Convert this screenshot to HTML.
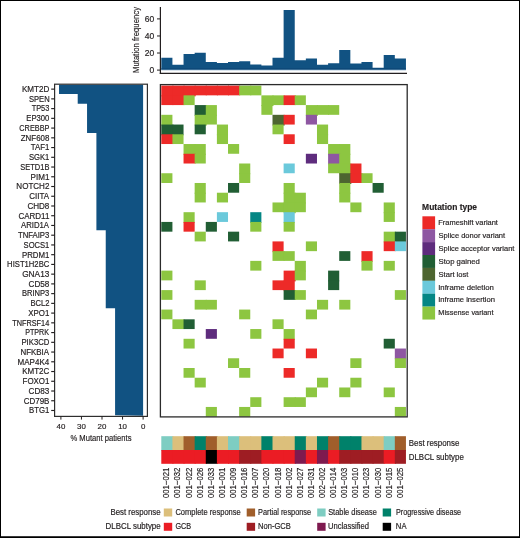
<!DOCTYPE html><html><head><meta charset="utf-8"><style>html,body{margin:0;padding:0;background:#fff;}svg{display:block;will-change:transform;}text{font-family:"Liberation Sans",sans-serif;fill:#231F20;stroke:#231F20;stroke-width:0.18px;}</style></head><body>
<svg width="520" height="538" viewBox="0 0 520 538">
<rect x="0" y="0" width="520" height="538" fill="#fff"/>
<path d="M161.30,69.7 L161.30,57.70 L172.42,57.70 L172.42,64.65 L183.54,64.65 L183.54,54.10 L194.66,54.10 L194.66,52.70 L205.78,52.70 L205.78,61.90 L216.90,61.90 L216.90,62.90 L228.02,62.90 L228.02,61.90 L239.14,61.90 L239.14,61.20 L250.26,61.20 L250.26,64.50 L261.38,64.50 L261.38,65.50 L272.50,65.50 L272.50,57.70 L283.62,57.70 L283.62,10.00 L294.74,10.00 L294.74,60.30 L305.86,60.30 L305.86,58.50 L316.98,58.50 L316.98,64.70 L328.10,64.70 L328.10,63.30 L339.22,63.30 L339.22,50.00 L350.34,50.00 L350.34,63.60 L361.46,63.60 L361.46,61.90 L372.58,61.90 L372.58,67.70 L383.70,67.70 L383.70,55.00 L394.82,55.00 L394.82,58.50 L405.94,58.50 L405.94,69.7 Z" fill="#115282"/>
<rect x="161.30" y="68.3" width="244.64" height="1.4" fill="#0C4676"/>
<rect x="161.30" y="69.7" width="244.64" height="0.6" fill="#7FA3C4"/>
<line x1="160.4" y1="7" x2="160.4" y2="73.9" stroke="#231F20" stroke-width="1.2"/>
<line x1="159.8" y1="73.3" x2="407" y2="73.3" stroke="#231F20" stroke-width="1.2"/>
<line x1="157" y1="70.10" x2="160.4" y2="70.10" stroke="#231F20" stroke-width="1"/>
<text x="154.2" y="73.20" font-size="8.5" text-anchor="end">0</text>
<line x1="157" y1="53.03" x2="160.4" y2="53.03" stroke="#231F20" stroke-width="1"/>
<text x="154.2" y="56.13" font-size="8.5" text-anchor="end">20</text>
<line x1="157" y1="35.97" x2="160.4" y2="35.97" stroke="#231F20" stroke-width="1"/>
<text x="154.2" y="39.07" font-size="8.5" text-anchor="end">40</text>
<line x1="157" y1="18.90" x2="160.4" y2="18.90" stroke="#231F20" stroke-width="1"/>
<text x="154.2" y="22.00" font-size="8.5" text-anchor="end">60</text>
<text transform="translate(138.90,72.94) rotate(-90)" font-size="9.8" textLength="65.95" lengthAdjust="spacingAndGlyphs">Mutation frequency</text>
<path d="M143.1,84.8 L59.03,84.80 L59.03,94.00 L77.71,94.00 L77.71,103.74 L87.05,103.74 L87.05,113.47 L87.05,113.47 L87.05,123.21 L87.05,123.21 L87.05,132.95 L96.40,132.95 L96.40,142.69 L96.40,142.69 L96.40,152.43 L96.40,152.43 L96.40,162.16 L96.40,162.16 L96.40,171.90 L96.40,171.90 L96.40,181.64 L96.40,181.64 L96.40,191.38 L96.40,191.38 L96.40,201.12 L96.40,201.12 L96.40,210.85 L96.40,210.85 L96.40,220.59 L96.40,220.59 L96.40,230.33 L105.74,230.33 L105.74,240.07 L105.74,240.07 L105.74,249.81 L105.74,249.81 L105.74,259.54 L105.74,259.54 L105.74,269.28 L105.74,269.28 L105.74,279.02 L105.74,279.02 L105.74,288.76 L105.74,288.76 L105.74,298.50 L105.74,298.50 L105.74,308.23 L115.08,308.23 L115.08,317.97 L115.08,317.97 L115.08,327.71 L115.08,327.71 L115.08,337.45 L115.08,337.45 L115.08,347.19 L115.08,347.19 L115.08,356.92 L115.08,356.92 L115.08,366.66 L115.08,366.66 L115.08,376.40 L115.08,376.40 L115.08,386.14 L115.08,386.14 L115.08,395.88 L115.08,395.88 L115.08,405.61 L115.08,405.61 L115.08,415.35 L143.1,415.8 Z" fill="#115282"/>
<rect x="54.6" y="84.2" width="92.8" height="332.2" fill="none" stroke="#2E2E2E" stroke-width="1.2"/>
<line x1="51.2" y1="89.13" x2="54.6" y2="89.13" stroke="#231F20" stroke-width="1.15"/>
<text x="21.94" y="91.98" font-size="8.2" textLength="27.45" lengthAdjust="spacingAndGlyphs">KMT2D</text>
<line x1="51.2" y1="98.87" x2="54.6" y2="98.87" stroke="#231F20" stroke-width="1.15"/>
<text x="28.96" y="101.72" font-size="8.2" textLength="20.66" lengthAdjust="spacingAndGlyphs">SPEN</text>
<line x1="51.2" y1="108.61" x2="54.6" y2="108.61" stroke="#231F20" stroke-width="1.15"/>
<text x="31.63" y="111.45" font-size="8.2" textLength="17.69" lengthAdjust="spacingAndGlyphs">TP53</text>
<line x1="51.2" y1="118.34" x2="54.6" y2="118.34" stroke="#231F20" stroke-width="1.15"/>
<text x="26.27" y="121.19" font-size="8.2" textLength="23.03" lengthAdjust="spacingAndGlyphs">EP300</text>
<line x1="51.2" y1="128.08" x2="54.6" y2="128.08" stroke="#231F20" stroke-width="1.15"/>
<text x="19.33" y="130.93" font-size="8.2" textLength="30.06" lengthAdjust="spacingAndGlyphs">CREBBP</text>
<line x1="51.2" y1="137.82" x2="54.6" y2="137.82" stroke="#231F20" stroke-width="1.15"/>
<text x="20.75" y="140.67" font-size="8.2" textLength="28.60" lengthAdjust="spacingAndGlyphs">ZNF608</text>
<line x1="51.2" y1="147.56" x2="54.6" y2="147.56" stroke="#231F20" stroke-width="1.15"/>
<text x="30.83" y="150.41" font-size="8.2" textLength="18.54" lengthAdjust="spacingAndGlyphs">TAF1</text>
<line x1="51.2" y1="157.30" x2="54.6" y2="157.30" stroke="#231F20" stroke-width="1.15"/>
<text x="28.95" y="160.15" font-size="8.2" textLength="20.42" lengthAdjust="spacingAndGlyphs">SGK1</text>
<line x1="51.2" y1="167.03" x2="54.6" y2="167.03" stroke="#231F20" stroke-width="1.15"/>
<text x="20.36" y="169.88" font-size="8.2" textLength="29.03" lengthAdjust="spacingAndGlyphs">SETD1B</text>
<line x1="51.2" y1="176.77" x2="54.6" y2="176.77" stroke="#231F20" stroke-width="1.15"/>
<text x="30.54" y="179.62" font-size="8.2" textLength="18.86" lengthAdjust="spacingAndGlyphs">PIM1</text>
<line x1="51.2" y1="186.51" x2="54.6" y2="186.51" stroke="#231F20" stroke-width="1.15"/>
<text x="16.34" y="189.36" font-size="8.2" textLength="33.06" lengthAdjust="spacingAndGlyphs">NOTCH2</text>
<line x1="51.2" y1="196.25" x2="54.6" y2="196.25" stroke="#231F20" stroke-width="1.15"/>
<text x="29.21" y="199.10" font-size="8.2" textLength="19.81" lengthAdjust="spacingAndGlyphs">CIITA</text>
<line x1="51.2" y1="205.99" x2="54.6" y2="205.99" stroke="#231F20" stroke-width="1.15"/>
<text x="27.39" y="208.84" font-size="8.2" textLength="21.96" lengthAdjust="spacingAndGlyphs">CHD8</text>
<line x1="51.2" y1="215.72" x2="54.6" y2="215.72" stroke="#231F20" stroke-width="1.15"/>
<text x="18.40" y="218.57" font-size="8.2" textLength="30.98" lengthAdjust="spacingAndGlyphs">CARD11</text>
<line x1="51.2" y1="225.46" x2="54.6" y2="225.46" stroke="#231F20" stroke-width="1.15"/>
<text x="20.98" y="228.31" font-size="8.2" textLength="28.03" lengthAdjust="spacingAndGlyphs">ARID1A</text>
<line x1="51.2" y1="235.20" x2="54.6" y2="235.20" stroke="#231F20" stroke-width="1.15"/>
<text x="17.93" y="238.05" font-size="8.2" textLength="31.41" lengthAdjust="spacingAndGlyphs">TNFAIP3</text>
<line x1="51.2" y1="244.94" x2="54.6" y2="244.94" stroke="#231F20" stroke-width="1.15"/>
<text x="23.55" y="247.79" font-size="8.2" textLength="25.82" lengthAdjust="spacingAndGlyphs">SOCS1</text>
<line x1="51.2" y1="254.68" x2="54.6" y2="254.68" stroke="#231F20" stroke-width="1.15"/>
<text x="21.96" y="257.53" font-size="8.2" textLength="27.43" lengthAdjust="spacingAndGlyphs">PRDM1</text>
<line x1="51.2" y1="264.41" x2="54.6" y2="264.41" stroke="#231F20" stroke-width="1.15"/>
<text x="7.12" y="267.26" font-size="8.2" textLength="42.17" lengthAdjust="spacingAndGlyphs">HIST1H2BC</text>
<line x1="51.2" y1="274.15" x2="54.6" y2="274.15" stroke="#231F20" stroke-width="1.15"/>
<text x="22.18" y="277.00" font-size="8.2" textLength="27.18" lengthAdjust="spacingAndGlyphs">GNA13</text>
<line x1="51.2" y1="283.89" x2="54.6" y2="283.89" stroke="#231F20" stroke-width="1.15"/>
<text x="28.49" y="286.74" font-size="8.2" textLength="20.87" lengthAdjust="spacingAndGlyphs">CD58</text>
<line x1="51.2" y1="293.63" x2="54.6" y2="293.63" stroke="#231F20" stroke-width="1.15"/>
<text x="21.98" y="296.48" font-size="8.2" textLength="27.35" lengthAdjust="spacingAndGlyphs">BRINP3</text>
<line x1="51.2" y1="303.37" x2="54.6" y2="303.37" stroke="#231F20" stroke-width="1.15"/>
<text x="30.38" y="306.22" font-size="8.2" textLength="19.01" lengthAdjust="spacingAndGlyphs">BCL2</text>
<line x1="51.2" y1="313.10" x2="54.6" y2="313.10" stroke="#231F20" stroke-width="1.15"/>
<text x="28.32" y="315.95" font-size="8.2" textLength="21.06" lengthAdjust="spacingAndGlyphs">XPO1</text>
<line x1="51.2" y1="322.84" x2="54.6" y2="322.84" stroke="#231F20" stroke-width="1.15"/>
<text x="12.24" y="325.69" font-size="8.2" textLength="36.98" lengthAdjust="spacingAndGlyphs">TNFRSF14</text>
<line x1="51.2" y1="332.58" x2="54.6" y2="332.58" stroke="#231F20" stroke-width="1.15"/>
<text x="25.21" y="335.43" font-size="8.2" textLength="23.87" lengthAdjust="spacingAndGlyphs">PTPRK</text>
<line x1="51.2" y1="342.32" x2="54.6" y2="342.32" stroke="#231F20" stroke-width="1.15"/>
<text x="21.47" y="345.17" font-size="8.2" textLength="27.90" lengthAdjust="spacingAndGlyphs">PIK3CD</text>
<line x1="51.2" y1="352.05" x2="54.6" y2="352.05" stroke="#231F20" stroke-width="1.15"/>
<text x="20.45" y="354.90" font-size="8.2" textLength="28.56" lengthAdjust="spacingAndGlyphs">NFKBIA</text>
<line x1="51.2" y1="361.79" x2="54.6" y2="361.79" stroke="#231F20" stroke-width="1.15"/>
<text x="17.54" y="364.64" font-size="8.2" textLength="31.69" lengthAdjust="spacingAndGlyphs">MAP4K4</text>
<line x1="51.2" y1="371.53" x2="54.6" y2="371.53" stroke="#231F20" stroke-width="1.15"/>
<text x="22.14" y="374.38" font-size="8.2" textLength="27.16" lengthAdjust="spacingAndGlyphs">KMT2C</text>
<line x1="51.2" y1="381.27" x2="54.6" y2="381.27" stroke="#231F20" stroke-width="1.15"/>
<text x="22.55" y="384.12" font-size="8.2" textLength="26.84" lengthAdjust="spacingAndGlyphs">FOXO1</text>
<line x1="51.2" y1="391.01" x2="54.6" y2="391.01" stroke="#231F20" stroke-width="1.15"/>
<text x="28.49" y="393.86" font-size="8.2" textLength="20.87" lengthAdjust="spacingAndGlyphs">CD83</text>
<line x1="51.2" y1="400.75" x2="54.6" y2="400.75" stroke="#231F20" stroke-width="1.15"/>
<text x="23.69" y="403.60" font-size="8.2" textLength="25.73" lengthAdjust="spacingAndGlyphs">CD79B</text>
<line x1="51.2" y1="410.48" x2="54.6" y2="410.48" stroke="#231F20" stroke-width="1.15"/>
<text x="29.06" y="413.33" font-size="8.2" textLength="20.32" lengthAdjust="spacingAndGlyphs">BTG1</text>
<line x1="60.90" y1="416.4" x2="60.90" y2="419.6" stroke="#231F20" stroke-width="1"/>
<text x="60.90" y="428.6" font-size="7.9" text-anchor="middle">40</text>
<line x1="81.45" y1="416.4" x2="81.45" y2="419.6" stroke="#231F20" stroke-width="1"/>
<text x="81.45" y="428.6" font-size="7.9" text-anchor="middle">30</text>
<line x1="102.00" y1="416.4" x2="102.00" y2="419.6" stroke="#231F20" stroke-width="1"/>
<text x="102.00" y="428.6" font-size="7.9" text-anchor="middle">20</text>
<line x1="122.55" y1="416.4" x2="122.55" y2="419.6" stroke="#231F20" stroke-width="1"/>
<text x="122.55" y="428.6" font-size="7.9" text-anchor="middle">10</text>
<line x1="143.10" y1="416.4" x2="143.10" y2="419.6" stroke="#231F20" stroke-width="1"/>
<text x="143.10" y="428.6" font-size="7.9" text-anchor="middle">0</text>
<text x="70.38" y="441.40" font-size="9.6" textLength="61.10" lengthAdjust="spacingAndGlyphs">% Mutant patients</text>
<rect x="161.30" y="85.60" width="12.12" height="10.74" fill="#ED2A28"/>
<rect x="172.42" y="85.60" width="12.12" height="10.74" fill="#ED2A28"/>
<rect x="183.54" y="85.60" width="12.12" height="10.74" fill="#ED2A28"/>
<rect x="194.66" y="85.60" width="12.12" height="9.74" fill="#ED2A28"/>
<rect x="205.78" y="85.60" width="12.12" height="9.74" fill="#ED2A28"/>
<rect x="216.90" y="85.60" width="12.12" height="9.74" fill="#ED2A28"/>
<rect x="228.02" y="85.60" width="12.12" height="9.74" fill="#ED2A28"/>
<rect x="239.14" y="85.60" width="12.12" height="9.74" fill="#8DC641"/>
<rect x="250.26" y="85.60" width="11.12" height="9.74" fill="#8DC641"/>
<rect x="161.30" y="95.34" width="12.12" height="9.74" fill="#ED2A28"/>
<rect x="172.42" y="95.34" width="12.12" height="9.74" fill="#ED2A28"/>
<rect x="183.54" y="95.34" width="11.12" height="9.74" fill="#8DC641"/>
<rect x="261.38" y="95.34" width="12.12" height="10.74" fill="#8DC641"/>
<rect x="272.50" y="95.34" width="12.12" height="9.74" fill="#8DC641"/>
<rect x="283.62" y="95.34" width="12.12" height="9.74" fill="#ED2A28"/>
<rect x="294.74" y="95.34" width="11.12" height="9.74" fill="#8DC641"/>
<rect x="194.66" y="105.08" width="12.12" height="10.74" fill="#215E34"/>
<rect x="205.78" y="105.08" width="11.12" height="10.74" fill="#8DC641"/>
<rect x="261.38" y="105.08" width="11.12" height="9.74" fill="#8DC641"/>
<rect x="305.86" y="105.08" width="12.12" height="10.74" fill="#8DC641"/>
<rect x="316.98" y="105.08" width="12.12" height="9.74" fill="#8DC641"/>
<rect x="328.10" y="105.08" width="11.12" height="9.74" fill="#8DC641"/>
<rect x="161.30" y="114.81" width="11.12" height="10.74" fill="#8DC641"/>
<rect x="194.66" y="114.81" width="12.12" height="10.74" fill="#8DC641"/>
<rect x="205.78" y="114.81" width="11.12" height="9.74" fill="#8DC641"/>
<rect x="272.50" y="114.81" width="12.12" height="10.74" fill="#4D6530"/>
<rect x="283.62" y="114.81" width="11.12" height="9.74" fill="#ED2A28"/>
<rect x="305.86" y="114.81" width="11.12" height="9.74" fill="#8E57A2"/>
<rect x="161.30" y="124.55" width="12.12" height="10.74" fill="#215E34"/>
<rect x="172.42" y="124.55" width="11.12" height="10.74" fill="#215E34"/>
<rect x="194.66" y="124.55" width="11.12" height="9.74" fill="#215E34"/>
<rect x="216.90" y="124.55" width="11.12" height="10.74" fill="#8DC641"/>
<rect x="272.50" y="124.55" width="11.12" height="9.74" fill="#8DC641"/>
<rect x="316.98" y="124.55" width="11.12" height="10.74" fill="#8DC641"/>
<rect x="161.30" y="134.29" width="12.12" height="9.74" fill="#ED2A28"/>
<rect x="172.42" y="134.29" width="11.12" height="9.74" fill="#8DC641"/>
<rect x="216.90" y="134.29" width="11.12" height="9.74" fill="#8DC641"/>
<rect x="283.62" y="134.29" width="11.12" height="9.74" fill="#ED2A28"/>
<rect x="316.98" y="134.29" width="11.12" height="9.74" fill="#8DC641"/>
<rect x="183.54" y="144.03" width="12.12" height="10.74" fill="#8DC641"/>
<rect x="194.66" y="144.03" width="11.12" height="10.74" fill="#8DC641"/>
<rect x="228.02" y="144.03" width="11.12" height="9.74" fill="#8DC641"/>
<rect x="328.10" y="144.03" width="12.12" height="10.74" fill="#8DC641"/>
<rect x="339.22" y="144.03" width="11.12" height="10.74" fill="#8DC641"/>
<rect x="183.54" y="153.77" width="12.12" height="9.74" fill="#ED2A28"/>
<rect x="194.66" y="153.77" width="11.12" height="9.74" fill="#8DC641"/>
<rect x="305.86" y="153.77" width="11.12" height="9.74" fill="#5E2C7D"/>
<rect x="328.10" y="153.77" width="12.12" height="10.74" fill="#8E57A2"/>
<rect x="339.22" y="153.77" width="11.12" height="10.74" fill="#8DC641"/>
<rect x="239.14" y="163.50" width="11.12" height="10.74" fill="#8DC641"/>
<rect x="283.62" y="163.50" width="11.12" height="9.74" fill="#6BC9DB"/>
<rect x="328.10" y="163.50" width="12.12" height="9.74" fill="#8DC641"/>
<rect x="339.22" y="163.50" width="12.12" height="10.74" fill="#8DC641"/>
<rect x="350.34" y="163.50" width="11.12" height="10.74" fill="#ED2A28"/>
<rect x="161.30" y="173.24" width="11.12" height="9.74" fill="#8DC641"/>
<rect x="239.14" y="173.24" width="11.12" height="9.74" fill="#8DC641"/>
<rect x="339.22" y="173.24" width="12.12" height="10.74" fill="#4D6530"/>
<rect x="350.34" y="173.24" width="12.12" height="9.74" fill="#ED2A28"/>
<rect x="361.46" y="173.24" width="11.12" height="9.74" fill="#8DC641"/>
<rect x="194.66" y="182.98" width="11.12" height="10.74" fill="#8DC641"/>
<rect x="228.02" y="182.98" width="11.12" height="9.74" fill="#215E34"/>
<rect x="283.62" y="182.98" width="11.12" height="10.74" fill="#8DC641"/>
<rect x="339.22" y="182.98" width="11.12" height="10.74" fill="#8DC641"/>
<rect x="372.58" y="182.98" width="11.12" height="9.74" fill="#215E34"/>
<rect x="194.66" y="192.72" width="11.12" height="9.74" fill="#8DC641"/>
<rect x="216.90" y="192.72" width="11.12" height="9.74" fill="#8DC641"/>
<rect x="283.62" y="192.72" width="12.12" height="10.74" fill="#8DC641"/>
<rect x="294.74" y="192.72" width="11.12" height="10.74" fill="#8DC641"/>
<rect x="339.22" y="192.72" width="11.12" height="9.74" fill="#8DC641"/>
<rect x="272.50" y="202.46" width="12.12" height="9.74" fill="#8DC641"/>
<rect x="283.62" y="202.46" width="12.12" height="10.74" fill="#8DC641"/>
<rect x="294.74" y="202.46" width="11.12" height="9.74" fill="#8DC641"/>
<rect x="350.34" y="202.46" width="11.12" height="9.74" fill="#8DC641"/>
<rect x="383.70" y="202.46" width="11.12" height="10.74" fill="#8DC641"/>
<rect x="183.54" y="212.19" width="11.12" height="10.74" fill="#8DC641"/>
<rect x="216.90" y="212.19" width="11.12" height="9.74" fill="#6BC9DB"/>
<rect x="250.26" y="212.19" width="11.12" height="10.74" fill="#048684"/>
<rect x="283.62" y="212.19" width="11.12" height="10.74" fill="#6BC9DB"/>
<rect x="383.70" y="212.19" width="11.12" height="9.74" fill="#8DC641"/>
<rect x="161.30" y="221.93" width="11.12" height="9.74" fill="#215E34"/>
<rect x="183.54" y="221.93" width="11.12" height="9.74" fill="#ED2A28"/>
<rect x="205.78" y="221.93" width="11.12" height="9.74" fill="#215E34"/>
<rect x="250.26" y="221.93" width="11.12" height="9.74" fill="#8DC641"/>
<rect x="283.62" y="221.93" width="11.12" height="9.74" fill="#8DC641"/>
<rect x="194.66" y="231.67" width="11.12" height="9.74" fill="#8DC641"/>
<rect x="228.02" y="231.67" width="11.12" height="9.74" fill="#215E34"/>
<rect x="383.70" y="231.67" width="12.12" height="10.74" fill="#8DC641"/>
<rect x="394.82" y="231.67" width="11.12" height="10.74" fill="#215E34"/>
<rect x="272.50" y="241.41" width="11.12" height="10.74" fill="#ED2A28"/>
<rect x="305.86" y="241.41" width="11.12" height="9.74" fill="#8DC641"/>
<rect x="383.70" y="241.41" width="12.12" height="9.74" fill="#ED2A28"/>
<rect x="394.82" y="241.41" width="11.12" height="9.74" fill="#6BC9DB"/>
<rect x="272.50" y="251.15" width="12.12" height="9.74" fill="#8DC641"/>
<rect x="283.62" y="251.15" width="11.12" height="9.74" fill="#8DC641"/>
<rect x="339.22" y="251.15" width="11.12" height="9.74" fill="#215E34"/>
<rect x="361.46" y="251.15" width="11.12" height="10.74" fill="#ED2A28"/>
<rect x="250.26" y="260.88" width="11.12" height="9.74" fill="#8DC641"/>
<rect x="294.74" y="260.88" width="11.12" height="10.74" fill="#8DC641"/>
<rect x="361.46" y="260.88" width="11.12" height="9.74" fill="#8DC641"/>
<rect x="383.70" y="260.88" width="11.12" height="9.74" fill="#8DC641"/>
<rect x="161.30" y="270.62" width="11.12" height="9.74" fill="#8DC641"/>
<rect x="283.62" y="270.62" width="12.12" height="10.74" fill="#ED2A28"/>
<rect x="294.74" y="270.62" width="11.12" height="9.74" fill="#8DC641"/>
<rect x="328.10" y="270.62" width="11.12" height="10.74" fill="#215E34"/>
<rect x="194.66" y="280.36" width="11.12" height="9.74" fill="#8DC641"/>
<rect x="272.50" y="280.36" width="12.12" height="9.74" fill="#ED2A28"/>
<rect x="283.62" y="280.36" width="11.12" height="10.74" fill="#ED2A28"/>
<rect x="328.10" y="280.36" width="11.12" height="9.74" fill="#215E34"/>
<rect x="161.30" y="290.10" width="11.12" height="9.74" fill="#8DC641"/>
<rect x="283.62" y="290.10" width="12.12" height="9.74" fill="#215E34"/>
<rect x="294.74" y="290.10" width="11.12" height="9.74" fill="#8DC641"/>
<rect x="394.82" y="290.10" width="11.12" height="9.74" fill="#8DC641"/>
<rect x="194.66" y="299.84" width="12.12" height="9.74" fill="#8DC641"/>
<rect x="205.78" y="299.84" width="11.12" height="9.74" fill="#8DC641"/>
<rect x="316.98" y="299.84" width="11.12" height="9.74" fill="#8DC641"/>
<rect x="339.22" y="299.84" width="11.12" height="9.74" fill="#8DC641"/>
<rect x="161.30" y="309.57" width="11.12" height="9.74" fill="#8DC641"/>
<rect x="239.14" y="309.57" width="11.12" height="9.74" fill="#8DC641"/>
<rect x="305.86" y="309.57" width="11.12" height="9.74" fill="#8DC641"/>
<rect x="172.42" y="319.31" width="12.12" height="9.74" fill="#8DC641"/>
<rect x="183.54" y="319.31" width="11.12" height="9.74" fill="#215E34"/>
<rect x="272.50" y="319.31" width="11.12" height="9.74" fill="#8DC641"/>
<rect x="205.78" y="329.05" width="11.12" height="9.74" fill="#5E2C7D"/>
<rect x="250.26" y="329.05" width="11.12" height="9.74" fill="#8DC641"/>
<rect x="283.62" y="329.05" width="11.12" height="10.74" fill="#8DC641"/>
<rect x="183.54" y="338.79" width="11.12" height="9.74" fill="#8DC641"/>
<rect x="283.62" y="338.79" width="11.12" height="9.74" fill="#ED2A28"/>
<rect x="383.70" y="338.79" width="11.12" height="9.74" fill="#215E34"/>
<rect x="272.50" y="348.53" width="11.12" height="9.74" fill="#ED2A28"/>
<rect x="305.86" y="348.53" width="11.12" height="9.74" fill="#ED2A28"/>
<rect x="394.82" y="348.53" width="11.12" height="10.74" fill="#8E57A2"/>
<rect x="228.02" y="358.26" width="11.12" height="9.74" fill="#8DC641"/>
<rect x="350.34" y="358.26" width="11.12" height="9.74" fill="#8DC641"/>
<rect x="394.82" y="358.26" width="11.12" height="9.74" fill="#8DC641"/>
<rect x="183.54" y="368.00" width="11.12" height="9.74" fill="#8DC641"/>
<rect x="239.14" y="368.00" width="11.12" height="9.74" fill="#8DC641"/>
<rect x="283.62" y="368.00" width="11.12" height="9.74" fill="#ED2A28"/>
<rect x="194.66" y="377.74" width="11.12" height="9.74" fill="#8DC641"/>
<rect x="316.98" y="377.74" width="11.12" height="9.74" fill="#8DC641"/>
<rect x="350.34" y="377.74" width="11.12" height="9.74" fill="#8DC641"/>
<rect x="305.86" y="387.48" width="11.12" height="9.74" fill="#8DC641"/>
<rect x="339.22" y="387.48" width="11.12" height="9.74" fill="#8DC641"/>
<rect x="383.70" y="387.48" width="11.12" height="9.74" fill="#8DC641"/>
<rect x="250.26" y="397.22" width="11.12" height="9.74" fill="#8DC641"/>
<rect x="283.62" y="397.22" width="12.12" height="9.74" fill="#8DC641"/>
<rect x="294.74" y="397.22" width="11.12" height="9.74" fill="#8DC641"/>
<rect x="205.78" y="406.95" width="11.12" height="9.74" fill="#8DC641"/>
<rect x="239.14" y="406.95" width="11.12" height="9.74" fill="#8DC641"/>
<rect x="394.82" y="406.95" width="11.12" height="9.74" fill="#8DC641"/>
<rect x="160.4" y="84.6" width="246.8" height="332.3" fill="none" stroke="#2B2B2B" stroke-width="1.3"/>
<rect x="161.30" y="436.2" width="12.12" height="14.8" fill="#7ECDC2"/>
<rect x="172.42" y="436.2" width="12.12" height="14.8" fill="#DCBF7B"/>
<rect x="183.54" y="436.2" width="12.12" height="14.8" fill="#A05E2B"/>
<rect x="194.66" y="436.2" width="12.12" height="14.8" fill="#00816A"/>
<rect x="205.78" y="436.2" width="12.12" height="14.8" fill="#A05E2B"/>
<rect x="216.90" y="436.2" width="12.12" height="14.8" fill="#DCBF7B"/>
<rect x="228.02" y="436.2" width="12.12" height="14.8" fill="#7ECDC2"/>
<rect x="239.14" y="436.2" width="12.12" height="14.8" fill="#DCBF7B"/>
<rect x="250.26" y="436.2" width="12.12" height="14.8" fill="#DCBF7B"/>
<rect x="261.38" y="436.2" width="12.12" height="14.8" fill="#00816A"/>
<rect x="272.50" y="436.2" width="12.12" height="14.8" fill="#DCBF7B"/>
<rect x="283.62" y="436.2" width="12.12" height="14.8" fill="#DCBF7B"/>
<rect x="294.74" y="436.2" width="12.12" height="14.8" fill="#00816A"/>
<rect x="305.86" y="436.2" width="12.12" height="14.8" fill="#DCBF7B"/>
<rect x="316.98" y="436.2" width="12.12" height="14.8" fill="#00816A"/>
<rect x="328.10" y="436.2" width="12.12" height="14.8" fill="#A05E2B"/>
<rect x="339.22" y="436.2" width="12.12" height="14.8" fill="#00816A"/>
<rect x="350.34" y="436.2" width="12.12" height="14.8" fill="#00816A"/>
<rect x="361.46" y="436.2" width="12.12" height="14.8" fill="#DCBF7B"/>
<rect x="372.58" y="436.2" width="12.12" height="14.8" fill="#DCBF7B"/>
<rect x="383.70" y="436.2" width="12.12" height="14.8" fill="#7ECDC2"/>
<rect x="394.82" y="436.2" width="11.12" height="14.8" fill="#A05E2B"/>
<rect x="161.30" y="450" width="12.12" height="13.8" fill="#EB1C24"/>
<rect x="172.42" y="450" width="12.12" height="13.8" fill="#EB1C24"/>
<rect x="183.54" y="450" width="12.12" height="13.8" fill="#EB1C24"/>
<rect x="194.66" y="450" width="12.12" height="13.8" fill="#EB1C24"/>
<rect x="205.78" y="450" width="12.12" height="13.8" fill="#000000"/>
<rect x="216.90" y="450" width="12.12" height="13.8" fill="#EB1C24"/>
<rect x="228.02" y="450" width="12.12" height="13.8" fill="#EB1C24"/>
<rect x="239.14" y="450" width="12.12" height="13.8" fill="#9E1D23"/>
<rect x="250.26" y="450" width="12.12" height="13.8" fill="#9E1D23"/>
<rect x="261.38" y="450" width="12.12" height="13.8" fill="#EB1C24"/>
<rect x="272.50" y="450" width="12.12" height="13.8" fill="#EB1C24"/>
<rect x="283.62" y="450" width="12.12" height="13.8" fill="#EB1C24"/>
<rect x="294.74" y="450" width="12.12" height="13.8" fill="#7E1A4F"/>
<rect x="305.86" y="450" width="12.12" height="13.8" fill="#EB1C24"/>
<rect x="316.98" y="450" width="12.12" height="13.8" fill="#7E1A4F"/>
<rect x="328.10" y="450" width="12.12" height="13.8" fill="#EB1C24"/>
<rect x="339.22" y="450" width="12.12" height="13.8" fill="#9E1D23"/>
<rect x="350.34" y="450" width="12.12" height="13.8" fill="#9E1D23"/>
<rect x="361.46" y="450" width="12.12" height="13.8" fill="#9E1D23"/>
<rect x="372.58" y="450" width="12.12" height="13.8" fill="#9E1D23"/>
<rect x="383.70" y="450" width="12.12" height="13.8" fill="#EB1C24"/>
<rect x="394.82" y="450" width="11.12" height="13.8" fill="#9E1D23"/>
<text x="408.75" y="445.80" font-size="8.3" textLength="50.60" lengthAdjust="spacingAndGlyphs">Best response</text>
<text x="408.75" y="459.50" font-size="8.3" textLength="55.09" lengthAdjust="spacingAndGlyphs">DLBCL subtype</text>
<text transform="translate(169.31,498.00) rotate(-90)" font-size="8.4" textLength="30.38" lengthAdjust="spacingAndGlyphs">001−021</text>
<text transform="translate(180.43,498.00) rotate(-90)" font-size="8.4" textLength="30.39" lengthAdjust="spacingAndGlyphs">001−032</text>
<text transform="translate(191.55,498.00) rotate(-90)" font-size="8.4" textLength="30.39" lengthAdjust="spacingAndGlyphs">001−022</text>
<text transform="translate(202.67,498.00) rotate(-90)" font-size="8.4" textLength="30.34" lengthAdjust="spacingAndGlyphs">001−026</text>
<text transform="translate(213.79,498.00) rotate(-90)" font-size="8.4" textLength="30.34" lengthAdjust="spacingAndGlyphs">001−033</text>
<text transform="translate(224.91,498.00) rotate(-90)" font-size="8.4" textLength="30.38" lengthAdjust="spacingAndGlyphs">001−001</text>
<text transform="translate(236.03,498.00) rotate(-90)" font-size="8.4" textLength="30.37" lengthAdjust="spacingAndGlyphs">001−009</text>
<text transform="translate(247.15,498.00) rotate(-90)" font-size="8.4" textLength="30.34" lengthAdjust="spacingAndGlyphs">001−016</text>
<text transform="translate(258.27,498.00) rotate(-90)" font-size="8.4" textLength="30.39" lengthAdjust="spacingAndGlyphs">001−007</text>
<text transform="translate(269.39,498.00) rotate(-90)" font-size="8.4" textLength="30.30" lengthAdjust="spacingAndGlyphs">001−020</text>
<text transform="translate(280.51,498.00) rotate(-90)" font-size="8.4" textLength="30.34" lengthAdjust="spacingAndGlyphs">001−018</text>
<text transform="translate(291.63,498.00) rotate(-90)" font-size="8.4" textLength="30.39" lengthAdjust="spacingAndGlyphs">001−002</text>
<text transform="translate(302.75,498.00) rotate(-90)" font-size="8.4" textLength="30.39" lengthAdjust="spacingAndGlyphs">001−027</text>
<text transform="translate(313.87,498.00) rotate(-90)" font-size="8.4" textLength="30.38" lengthAdjust="spacingAndGlyphs">001−031</text>
<text transform="translate(324.99,498.00) rotate(-90)" font-size="8.4" textLength="30.39" lengthAdjust="spacingAndGlyphs">002−002</text>
<text transform="translate(336.11,498.00) rotate(-90)" font-size="8.4" textLength="30.23" lengthAdjust="spacingAndGlyphs">001−014</text>
<text transform="translate(347.23,498.00) rotate(-90)" font-size="8.4" textLength="30.34" lengthAdjust="spacingAndGlyphs">001−003</text>
<text transform="translate(358.35,498.00) rotate(-90)" font-size="8.4" textLength="30.30" lengthAdjust="spacingAndGlyphs">001−010</text>
<text transform="translate(369.47,498.00) rotate(-90)" font-size="8.4" textLength="30.34" lengthAdjust="spacingAndGlyphs">001−023</text>
<text transform="translate(380.59,498.00) rotate(-90)" font-size="8.4" textLength="30.30" lengthAdjust="spacingAndGlyphs">001−030</text>
<text transform="translate(391.71,498.00) rotate(-90)" font-size="8.4" textLength="30.33" lengthAdjust="spacingAndGlyphs">001−015</text>
<text transform="translate(402.83,498.00) rotate(-90)" font-size="8.4" textLength="30.33" lengthAdjust="spacingAndGlyphs">001−025</text>
<text x="422.13" y="210.30" font-size="8.3" font-weight="bold" textLength="54.95" lengthAdjust="spacingAndGlyphs">Mutation type</text>
<rect x="422.4" y="216.30" width="12.7" height="12.95" fill="#ED2A28"/>
<text x="438.29" y="225.00" font-size="7.7" textLength="59.67" lengthAdjust="spacingAndGlyphs">Frameshift variant</text>
<rect x="422.4" y="229.20" width="12.7" height="12.95" fill="#8E57A2"/>
<text x="438.56" y="237.90" font-size="7.7" textLength="66.60" lengthAdjust="spacingAndGlyphs">Splice donor variant</text>
<rect x="422.4" y="242.10" width="12.7" height="12.95" fill="#5E2C7D"/>
<text x="438.56" y="250.80" font-size="7.7" textLength="75.90" lengthAdjust="spacingAndGlyphs">Splice acceptor variant</text>
<rect x="422.4" y="255.00" width="12.7" height="12.95" fill="#215E34"/>
<text x="438.55" y="263.70" font-size="7.7" textLength="41.25" lengthAdjust="spacingAndGlyphs">Stop gained</text>
<rect x="422.4" y="267.90" width="12.7" height="12.95" fill="#4D6530"/>
<text x="438.56" y="276.60" font-size="7.7" textLength="29.80" lengthAdjust="spacingAndGlyphs">Start lost</text>
<rect x="422.4" y="280.80" width="12.7" height="12.95" fill="#6BC9DB"/>
<text x="438.18" y="289.50" font-size="7.7" textLength="55.72" lengthAdjust="spacingAndGlyphs">Inframe deletion</text>
<rect x="422.4" y="293.70" width="12.7" height="12.95" fill="#048684"/>
<text x="438.20" y="302.40" font-size="7.7" textLength="56.80" lengthAdjust="spacingAndGlyphs">Inframe insertion</text>
<rect x="422.4" y="306.60" width="12.7" height="12.95" fill="#8DC641"/>
<text x="438.30" y="315.30" font-size="7.7" textLength="55.16" lengthAdjust="spacingAndGlyphs">Missense variant</text>
<text x="110.46" y="514.80" font-size="8.2" textLength="50.19" lengthAdjust="spacingAndGlyphs">Best response</text>
<text x="105.55" y="528.90" font-size="8.2" textLength="55.09" lengthAdjust="spacingAndGlyphs">DLBCL subtype</text>
<rect x="163.8" y="508.5" width="8.4" height="8.0" fill="#DCBF7B"/>
<text x="175.42" y="514.80" font-size="8.2" textLength="65.32" lengthAdjust="spacingAndGlyphs">Complete response</text>
<rect x="246.7" y="508.5" width="8.4" height="8.0" fill="#A05E2B"/>
<text x="258.10" y="514.80" font-size="8.2" textLength="53.03" lengthAdjust="spacingAndGlyphs">Partial response</text>
<rect x="317.2" y="508.5" width="8.4" height="8.0" fill="#7ECDC2"/>
<text x="328.16" y="514.80" font-size="8.2" textLength="48.67" lengthAdjust="spacingAndGlyphs">Stable disease</text>
<rect x="382.7" y="508.5" width="8.4" height="8.0" fill="#00816A"/>
<text x="395.91" y="514.80" font-size="8.2" textLength="65.22" lengthAdjust="spacingAndGlyphs">Progressive disease</text>
<rect x="163.8" y="522.8" width="8.4" height="8.0" fill="#EB1C24"/>
<text x="175.43" y="528.90" font-size="8.2" textLength="15.75" lengthAdjust="spacingAndGlyphs">GCB</text>
<rect x="246.7" y="522.8" width="8.4" height="8.0" fill="#9E1D23"/>
<text x="258.08" y="528.90" font-size="8.2" textLength="32.72" lengthAdjust="spacingAndGlyphs">Non-GCB</text>
<rect x="317.2" y="522.8" width="8.4" height="8.0" fill="#7E1A4F"/>
<text x="327.91" y="528.90" font-size="8.2" textLength="41.08" lengthAdjust="spacingAndGlyphs">Unclassified</text>
<rect x="382.7" y="522.8" width="8.4" height="8.0" fill="#000000"/>
<text x="395.87" y="528.90" font-size="8.2" textLength="10.64" lengthAdjust="spacingAndGlyphs">NA</text>
<rect x="0.5" y="0.5" width="519" height="536.6" fill="none" stroke="#000" stroke-width="1"/>
<rect x="0" y="536.4" width="520" height="1.6" fill="#000"/>
</svg></body></html>
